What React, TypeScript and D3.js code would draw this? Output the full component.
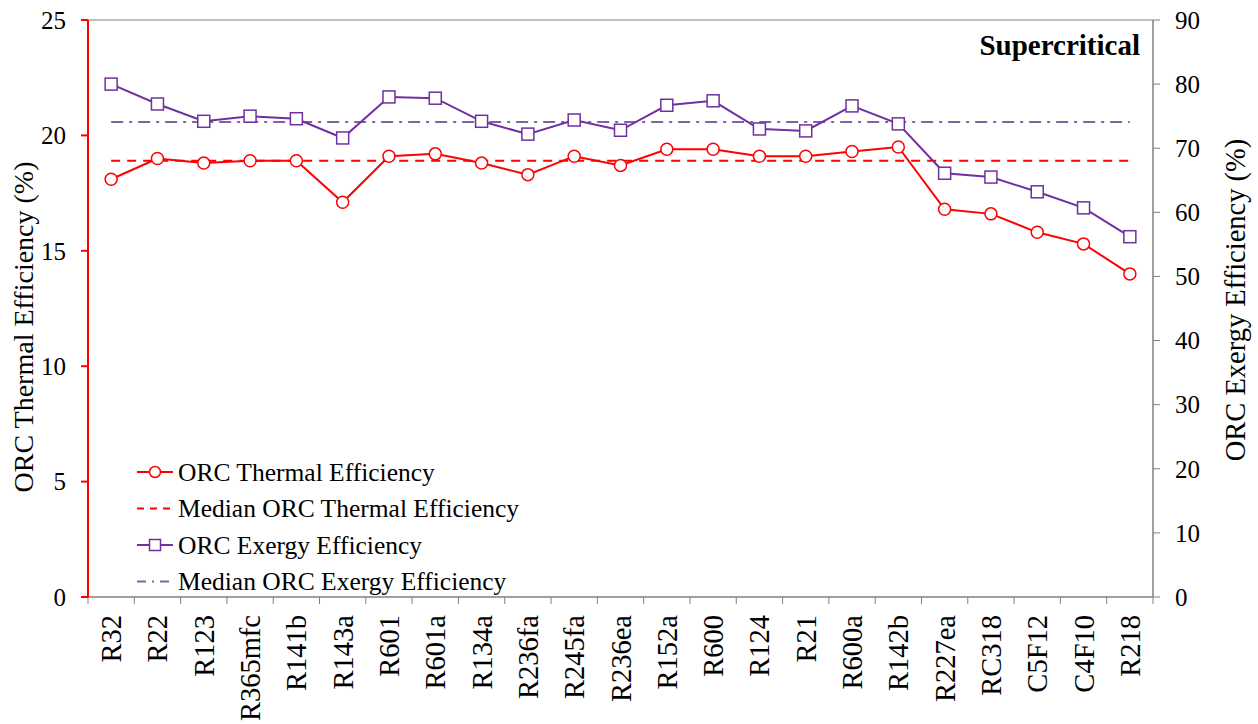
import React from "react";
import * as d3 from "d3";

const categories = ["R32","R22","R123","R365mfc","R141b","R143a","R601","R601a","R134a","R236fa","R245fa","R236ea","R152a","R600","R124","R21","R600a","R142b","R227ea","RC318","C5F12","C4F10","R218"];
const thermal = [18.1,19.0,18.8,18.9,18.9,17.1,19.1,19.2,18.8,18.3,19.1,18.7,19.4,19.4,19.1,19.1,19.3,19.5,16.8,16.6,15.8,15.3,14.0];
const exergy = [80.0,76.9,74.2,75.0,74.6,71.6,78.0,77.8,74.2,72.2,74.4,72.8,76.7,77.4,73.0,72.7,76.6,73.8,66.1,65.5,63.2,60.7,56.2];
const medianThermal = 18.9;
const medianExergy = 74.1;
const leftTicks = [0,5,10,15,20,25];
const rightTicks = [0,10,20,30,40,50,60,70,80,90];
const legendItems = ["ORC Thermal Efficiency","Median ORC Thermal Efficiency","ORC Exergy Efficiency","Median ORC Exergy Efficiency"];

const W = 1258, H = 724;
const L = 88, R = 1153, T = 20, B = 597;
const RED = "#FF0000", PURPLE = "#7030A0", LPURPLE = "#8064A2", GRAY = "#808080";
const FONT = "'Liberation Serif', 'Times New Roman', serif";

export default function App() {
  const x = d3.scaleBand<string>().domain(categories).range([L, R]);
  const cx = (c: string) => (x(c) as number) + x.bandwidth() / 2;
  const yL = d3.scaleLinear().domain([0, 25]).range([B, T]);
  const yR = d3.scaleLinear().domain([0, 90]).range([B, T]);
  const lineT = d3.line<number>().x((_, i) => cx(categories[i])).y((d) => yL(d));
  const lineE = d3.line<number>().x((_, i) => cx(categories[i])).y((d) => yR(d));
  const x0 = cx(categories[0]), x1 = cx(categories[categories.length - 1]);
  const boundaries = categories.map((c) => x(c) as number).concat([R]);

  return (
    <svg width={W} height={H} style={{ position: "absolute", left: 0, top: 0, background: "#fff" }} fontFamily={FONT}>
      <line x1={L} x2={R} y1={T} y2={T} stroke={GRAY} strokeWidth={1} />
      <line x1={L} x2={R} y1={B} y2={B} stroke={GRAY} strokeWidth={1.5} />
      {boundaries.map((b, i) => (
        <line key={i} x1={b} x2={b} y1={B} y2={B + 7} stroke={GRAY} strokeWidth={1} />
      ))}
      <line x1={R} x2={R} y1={T} y2={B} stroke={GRAY} strokeWidth={1.5} />
      {rightTicks.map((t) => (
        <g key={t}>
          <line x1={R} x2={R + 7} y1={yR(t)} y2={yR(t)} stroke={GRAY} />
          <text x={R + 22} y={yR(t)} dy="0.35em" fontSize={25} fill="#000">{t}</text>
        </g>
      ))}
      <line x1={L} x2={L} y1={T} y2={B} stroke={RED} strokeWidth={2} />
      {leftTicks.map((t) => (
        <g key={t}>
          <line x1={L - 7} x2={L} y1={yL(t)} y2={yL(t)} stroke={RED} strokeWidth={2} />
          <text x={L - 22} y={yL(t)} dy="0.35em" fontSize={25} textAnchor="end" fill="#000">{t}</text>
        </g>
      ))}
      <text transform={`translate(33,327) rotate(-90)`} textAnchor="middle" fontSize={28}>ORC Thermal Efficiency (%)</text>
      <text transform={`translate(1245,300) rotate(-90)`} textAnchor="middle" fontSize={28.5}>ORC Exergy Efficiency (%)</text>
      {categories.map((c) => (
        <text key={c} transform={`translate(${cx(c) + 10},${B + 18}) rotate(-90)`} textAnchor="end" fontSize={28.5}>{c}</text>
      ))}
      <line x1={x0} x2={x1} y1={yL(medianThermal)} y2={yL(medianThermal)} stroke={RED} strokeWidth={2} strokeDasharray="9,7" />
      <line x1={x0} x2={x1} y1={yR(medianExergy)} y2={yR(medianExergy)} stroke={LPURPLE} strokeWidth={2} strokeDasharray="12,6,3,6" />
      <path d={lineE(exergy) as string} fill="none" stroke={PURPLE} strokeWidth={2} />
      {exergy.map((v, i) => (
        <rect key={i} x={cx(categories[i]) - 6} y={yR(v) - 6} width={12} height={12} fill="#fff" stroke={PURPLE} strokeWidth={1.5} />
      ))}
      <path d={lineT(thermal) as string} fill="none" stroke={RED} strokeWidth={2} />
      {thermal.map((v, i) => (
        <circle key={i} cx={cx(categories[i])} cy={yL(v)} r={6} fill="#fff" stroke={RED} strokeWidth={1.5} />
      ))}
      <text x={1140} y={55} textAnchor="end" fontSize={29} fontWeight="bold" fill="#000">Supercritical</text>
      {legendItems.map((name, i) => {
        const ly = 472 + i * 36.5;
        return (
          <g key={name}>
            {i === 0 && (<>
              <line x1={137} x2={173} y1={ly} y2={ly} stroke={RED} strokeWidth={2} />
              <circle cx={155} cy={ly} r={5.5} fill="#fff" stroke={RED} strokeWidth={1.5} />
            </>)}
            {i === 1 && <line x1={137} x2={173} y1={ly} y2={ly} stroke={RED} strokeWidth={2} strokeDasharray="7,6" />}
            {i === 2 && (<>
              <line x1={137} x2={173} y1={ly} y2={ly} stroke={PURPLE} strokeWidth={2} />
              <rect x={149.5} y={ly - 5.5} width={11} height={11} fill="#fff" stroke={PURPLE} strokeWidth={1.5} />
            </>)}
            {i === 3 && <line x1={137} x2={173} y1={ly} y2={ly} stroke={LPURPLE} strokeWidth={2} strokeDasharray="9,6,2,6" />}
            <text x={178} y={ly} dy="0.35em" fontSize={25.5} fill="#000">{name}</text>
          </g>
        );
      })}
    </svg>
  );
}
